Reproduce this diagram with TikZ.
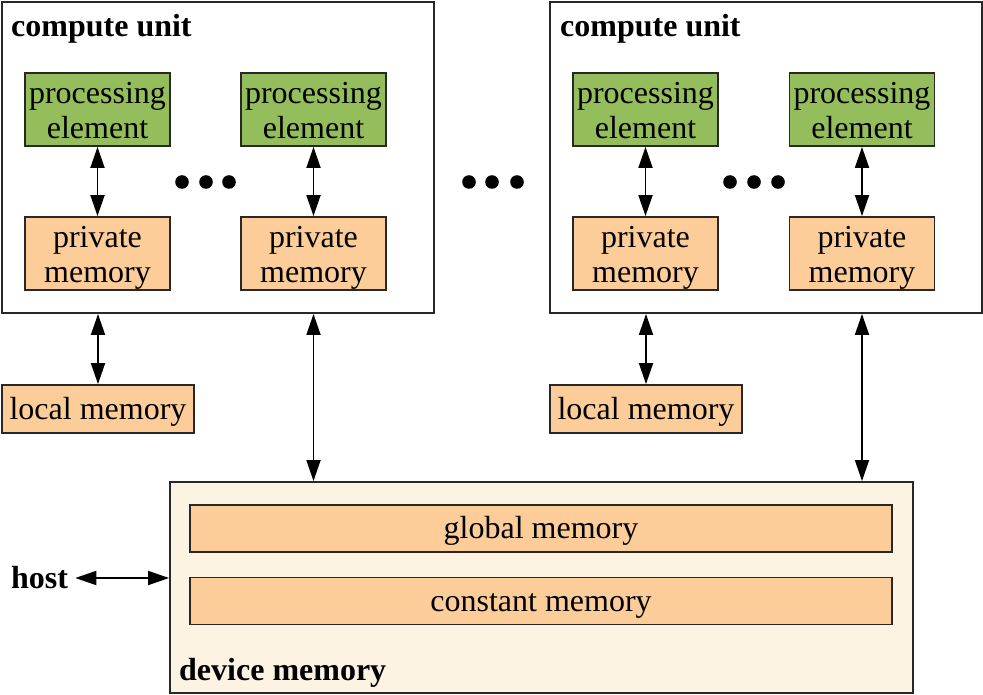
\documentclass[tikz,border=0pt]{standalone}
\usepackage{fontspec}
\setmainfont{Liberation Serif}
\usetikzlibrary{arrows.meta}
\definecolor{peGreen}{RGB}{148,190,92}
\definecolor{memOrange}{RGB}{252,204,153}
\definecolor{devCream}{RGB}{253,243,227}
\definecolor{edge}{RGB}{40,40,40}
\newcommand\twoln[2]{\rule{0pt}{31pt}#1\\#2\rule[-7pt]{0pt}{7pt}}
\tikzset{
  txt/.style={font=\fontsize{32}{35}\selectfont, align=center, inner sep=0pt},
  onel/.style={text height=27pt, text depth=7pt},
  lbl/.style={font=\fontsize{32}{35}\selectfont\bfseries, inner sep=0pt},
  cubox/.style={draw=edge, line width=1.9pt, fill=white, minimum width=432pt, minimum height=311pt, inner sep=0pt},
  pebox/.style={txt, draw=edge, line width=1.8pt, fill=peGreen, minimum width=145pt, minimum height=73pt},
  pmbox/.style={txt, draw=edge, line width=1.8pt, fill=memOrange, minimum width=145pt, minimum height=73pt},
  lmbox/.style={txt, onel, draw=edge, line width=1.8pt, fill=memOrange, minimum width=192pt, minimum height=48pt},
  gmbox/.style={txt, onel, draw=edge, line width=1.8pt, fill=memOrange, minimum width=702pt, minimum height=47pt},
  devbox/.style={draw=edge, line width=1.9pt, fill=devCream, minimum width=743pt, minimum height=211pt, inner sep=0pt},
  biarrow/.style={line width=1.8pt, {Triangle[length=21pt,width=14pt]}-{Triangle[length=21pt,width=14pt]}},
  dotfill/.style={fill=black}
}
\begin{document}
\begin{tikzpicture}[x=1pt,y=-1pt]
\useasboundingbox (0,0) rectangle (983,695);
% compute units
\node[cubox] (cu1) at (218,157.5) {};
\node[cubox] (cu2) at (766,157.5) {};
\node[lbl, anchor=west] (cu1l) at (11,29) {compute unit};
\node[lbl, anchor=west] (cu2l) at (560,29) {compute unit};
% processing elements
\node[pebox] (pe1) at (97.5,109.5) {\twoln{processing}{element}};
\node[pebox] (pe2) at (313.5,109.5) {\twoln{processing}{element}};
\node[pebox] (pe3) at (645.5,109.5) {\twoln{processing}{element}};
\node[pebox] (pe4) at (862,109.5) {\twoln{processing}{element}};
% private memories
\node[pmbox] (pm1) at (97.5,253.5) {\twoln{private}{memory}};
\node[pmbox] (pm2) at (313.5,253.5) {\twoln{private}{memory}};
\node[pmbox] (pm3) at (645.5,253.5) {\twoln{private}{memory}};
\node[pmbox] (pm4) at (862,253.5) {\twoln{private}{memory}};
% dots
\foreach \x in {182,206,229,469,492,517,730,754,778}
  \fill[dotfill] (\x,182) circle (6.8);
% local memories
\node[lmbox] (lm1) at (98,409) {local memory};
\node[lmbox] (lm2) at (646,409) {local memory};
% device memory
\node[devbox] (dev) at (541.5,587.5) {};
\node[gmbox] (gm) at (541,528.5) {global memory};
\node[gmbox] (cm) at (541,601) {constant memory};
\node[lbl, anchor=west] (devl) at (179,673) {device memory};
\node[lbl, anchor=west, inner xsep=0pt] (host) at (11,578) {host};
% arrows
\draw[biarrow] (pe1.south) -- (pm1.north);
\draw[biarrow] (pe2.south) -- (pm2.north);
\draw[biarrow] (pe3.south) -- (pm3.north);
\draw[biarrow] (pe4.south) -- (pm4.north);
\draw[biarrow] (lm1.north |- cu1.south) -- (lm1.north);
\draw[biarrow] (lm2.north |- cu2.south) -- (lm2.north);
\draw[biarrow] (pm2.south |- cu1.south) -- (pm2.south |- dev.north);
\draw[biarrow] (pm4.south |- cu2.south) -- (pm4.south |- dev.north);
\draw[biarrow] ([xshift=7pt]host.east) -- (host.east -| dev.west);
\end{tikzpicture}
\end{document}
